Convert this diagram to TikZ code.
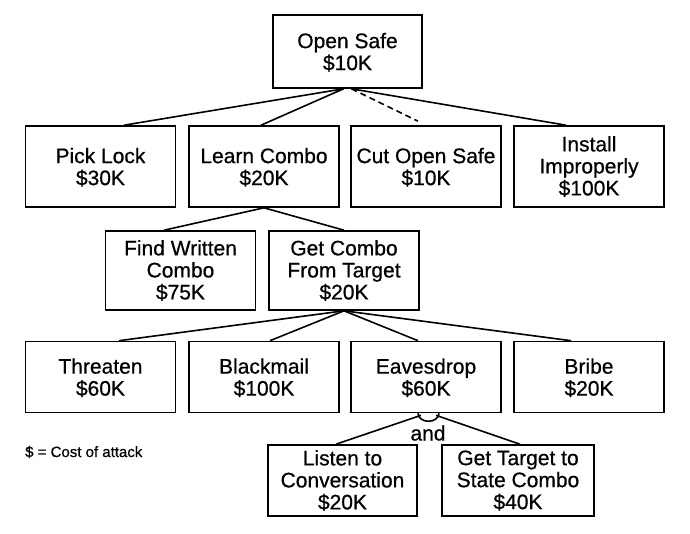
\documentclass[tikz,border=0pt]{standalone}
\usepackage{fontspec}
\setmainfont{Liberation Sans}
\newfontfamily\boxfont{Liberation Sans}[FakeBold=0.6]
\begin{document}
\begin{tikzpicture}[x=1pt,y=-1pt,
  box/.style={draw,line width=1.6pt,inner sep=0pt,minimum width=150pt,align=center,font=\boxfont\fontsize{21}{22}\selectfont},
  twoline/.style={text depth=0pt},
  link/.style={line width=1.6pt},
  dlink/.style={line width=1.6pt,dash pattern=on 6pt off 4pt},
  lbl/.style={inner sep=0pt,font=\boxfont\fontsize{21}{22}\selectfont},
]
\useasboundingbox (0,0) rectangle (690,533);
% level 1
\node[box,twoline,minimum width=149pt,minimum height=73pt] (safe) at (347.5,51.5) {Open Safe\\\$10K};
% level 2
\node[box,twoline,minimum height=81pt] (pick) at (100.5,166.5) {Pick Lock\\\$30K};
\node[box,twoline,minimum height=81pt] (learn) at (264,166.5) {Learn Combo\\\$20K};
\node[box,twoline,minimum height=81pt] (cut) at (426,166.5) {Cut Open Safe\\\$10K};
\node[box,minimum height=81pt] (install) at (589,166.5) {Install\\Improperly\\\$100K};
% level 3
\node[box,minimum height=79pt] (find) at (180.5,270.5) {Find Written\\Combo\\\$75K};
\node[box,minimum height=79pt] (getcombo) at (344,270.5) {Get Combo\\From Target\\\$20K};
% level 4
\node[box,twoline,minimum height=71pt] (threaten) at (100.5,377) {Threaten\\\$60K};
\node[box,twoline,minimum height=71pt] (blackmail) at (264,377) {Blackmail\\\$100K};
\node[box,twoline,minimum height=71pt] (eaves) at (426,377) {Eavesdrop\\\$60K};
\node[box,twoline,minimum height=71pt] (bribe) at (589,377) {Bribe\\\$20K};
% level 5
\node[box,minimum width=149pt,minimum height=71pt] (listen) at (342.5,480.5) {Listen to\\Conversation\\\$20K};
\node[box,minimum width=152pt,minimum height=71pt] (gettarget) at (518,480.5) {Get Target to\\State Combo\\\$40K};
% connectors
\draw[link] ([xshift=-4pt]safe.south) -- ([xshift=23.5pt]pick.north);
\draw[link] ([xshift=-4pt]safe.south) -- ([xshift=-3pt]learn.north);
\draw[dlink] ([xshift=4pt]safe.south) -- ([xshift=-8pt,yshift=4pt]cut.north);
\draw[link] ([xshift=4pt]safe.south) -- ([xshift=-23pt]install.north);
\draw[link] (learn.south) -- ([xshift=-16.5pt]find.north);
\draw[link] (learn.south) -- (getcombo.north);
\draw[link] (getcombo.south) -- ([xshift=18.5pt]threaten.north);
\draw[link] (getcombo.south) -- ([xshift=6pt]blackmail.north);
\draw[link] (getcombo.south) -- ([xshift=-8pt]eaves.north);
\draw[link] (getcombo.south) -- ([xshift=-18pt]bribe.north);
\draw[link] ([xshift=-5pt,yshift=-2pt]eaves.south) -- ([xshift=-6.5pt]listen.north);
\draw[link] ([xshift=10pt,yshift=-2pt]eaves.south) -- ([xshift=2pt]gettarget.north);
\draw[link] ([xshift=-8pt]eaves.south) arc[start angle=180,end angle=360,x radius=10.5pt,y radius=8pt];
\node[lbl] (and) at (428,433) {and};
% legend
\node[anchor=base west,inner sep=0pt,font=\boxfont\fontsize{15}{17}\selectfont] (legend) at (25,457) {\$ = Cost of attack};
\end{tikzpicture}
\end{document}
